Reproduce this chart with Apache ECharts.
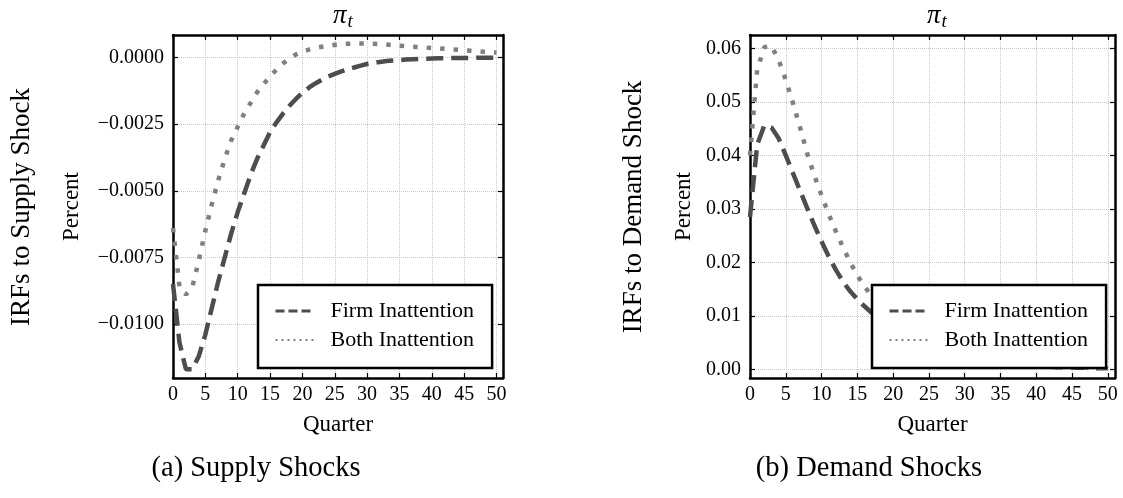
<!DOCTYPE html>
<html>
<head>
<meta charset="utf-8">
<script src="https://cdn.jsdelivr.net/npm/echarts@6/dist/echarts.min.js"></script>
<style>
html, body { margin: 0; padding: 0; background: #fff; }
#chart { width: 1123px; height: 498px; }
</style>
</head>
<body>
<div id="chart"></div>
<script>
// ---- data ----
const quarters = [0,1,2,3,4,5,6,7,8,9,10,11,12,13,14,15,16,17,18,19,20,21,22,23,24,25,
    26,27,28,29,30,31,32,33,34,35,36,37,38,39,40,41,42,43,44,45,46,47,48,49,50];

// (a) supply shock
const supplyFirm = [-0.0085, -0.0107, -0.0117, -0.0117, -0.0112, -0.0104, -0.0094, -0.0084, -0.0075, -0.0066,
    -0.0058, -0.0051, -0.0044, -0.0038, -0.0033, -0.0028, -0.00243, -0.0021, -0.00181, -0.00155,
    -0.00132, -0.00113, -0.00097, -0.00083, -0.00071, -0.00061, -0.00052, -0.00044, -0.00037, -0.00030,
    -0.00024, -0.00020, -0.00016, -0.00013, -0.00011, -0.00009, -0.00007, -0.00006, -0.00005, -0.00004,
    -0.00003, -0.00002, -0.00002, -0.00001, -0.00001, -0.00001, -0.00001, 0, 0, 0, 0];
const supplyBoth = [-0.0064, -0.0086, -0.0089, -0.0086, -0.0076, -0.0065, -0.0055, -0.0046, -0.0038, -0.0031,
    -0.0026, -0.0021, -0.0017, -0.0013, -0.0010, -0.00070, -0.00045, -0.00022, -0.00002, 0.00012,
    0.00022, 0.00030, 0.00036, 0.00041, 0.00045, 0.00048, 0.00050, 0.00052, 0.00053, 0.00053,
    0.00053, 0.00052, 0.00051, 0.00049, 0.00047, 0.00045, 0.00043, 0.00041, 0.00040, 0.00038,
    0.00036, 0.00035, 0.00033, 0.00031, 0.00030, 0.00028, 0.00026, 0.00024, 0.00022, 0.00020, 0.00019];

// (b) demand shock
const demandFirm = [0.0285, 0.0420, 0.0456, 0.0452, 0.0432, 0.0400, 0.0367, 0.0334, 0.0301, 0.0269,
    0.0239, 0.0211, 0.0186, 0.0164, 0.0146, 0.0131, 0.0118, 0.0106, 0.0095, 0.0085,
    0.0076, 0.0067, 0.0059, 0.0052, 0.0046, 0.0040, 0.0035, 0.0031, 0.0027, 0.0023,
    0.0020, 0.0018, 0.0016, 0.0014, 0.0012, 0.0011, 0.0010, 0.0009, 0.0008, 0.0007,
    0.0006, 0.0005, 0.0005, 0.0004, 0.0004, 0.0003, 0.0003, 0.0003, 0.0002, 0.0002, 0.0002];
const demandBoth = [0.0400, 0.0560, 0.0602, 0.0605, 0.0578, 0.0541, 0.0498, 0.0452, 0.0403, 0.0362,
    0.0325, 0.0290, 0.0258, 0.0228, 0.0200, 0.0176, 0.0155, 0.0137, 0.0121, 0.0107,
    0.0094, 0.0083, 0.0073, 0.0064, 0.0056, 0.0049, 0.0043, 0.0038, 0.0033, 0.0029,
    0.0025, 0.0022, 0.0019, 0.0017, 0.0015, 0.0013, 0.0011, 0.0010, 0.0009, 0.0008,
    0.0007, 0.0006, 0.0005, 0.0005, 0.0004, 0.0004, 0.0003, 0.0003, 0.0003, 0.0002, 0.0002];

const xTicks = [0, 5, 10, 15, 20, 25, 30, 35, 40, 45, 50];
const supplyTicks = [-0.01, -0.0075, -0.005, -0.0025, 0];
const demandTicks = [0, 0.01, 0.02, 0.03, 0.04, 0.05, 0.06];

const seriesNames = ['Firm Inattention', 'Both Inattention'];

// ---- styles ----
const FONT = 'Liberation Serif';
const FIRM_STYLE = { color: '#4d4d4d', width: 4.5, type: [17, 8], cap: 'butt' };
const BOTH_STYLE = { color: '#808080', width: 4.5, type: [4.5, 9], cap: 'butt' };

function pairs(ys) {
    return quarters.map((q, i) => [q, ys[i]]);
}

function fmtSupply(v) {
    if (Math.abs(v) < 1e-12) return '0.0000';
    return (v < 0 ? '\u2212' : '') + Math.abs(v).toFixed(4);
}
function fmtDemand(v) {
    return Math.abs(v) < 1e-12 ? '0.00' : v.toFixed(2);
}

function xAxes(grid) {
    const base = {
        type: 'value', gridIndex: grid, min: 0, max: 51,
        axisLine: { onZero: false, lineStyle: { color: '#000', width: 2.5 } },
        axisTick: { inside: true, length: 5, customValues: xTicks, lineStyle: { color: '#000', width: 1.2 } },
        splitLine: { show: false }
    };
    return [
        Object.assign({}, base, {
            position: 'bottom',
            name: 'Quarter', nameLocation: 'middle', nameGap: 35,
            nameTextStyle: { fontFamily: FONT, fontSize: 23, color: '#000' },
            axisLabel: { customValues: xTicks, margin: 7, fontFamily: FONT, fontSize: 20, color: '#000' },
            splitLine: { show: true, lineStyle: { color: '#c8c8c8', width: 1, type: 'dotted' } }
        }),
        Object.assign({}, base, { position: 'top', axisLabel: { show: false } })
    ];
}

function yAxes(grid, min, max, ticks, fmt, gap) {
    const base = {
        type: 'value', gridIndex: grid, min: min, max: max,
        axisLine: { onZero: false, lineStyle: { color: '#000', width: 2.5 } },
        axisTick: { inside: true, length: 5, customValues: ticks, lineStyle: { color: '#000', width: 1.2 } },
        splitLine: { show: false }
    };
    return [
        Object.assign({}, base, {
            position: 'left',
            name: 'Percent', nameLocation: 'middle', nameGap: gap,
            nameTextStyle: { fontFamily: FONT, fontSize: 23, color: '#000' },
            axisLabel: { customValues: ticks, margin: 9, formatter: fmt, fontFamily: FONT, fontSize: 20, color: '#000' },
            splitLine: { show: true, lineStyle: { color: '#c8c8c8', width: 1, type: 'dotted' } }
        }),
        Object.assign({}, base, { position: 'right', axisLabel: { show: false } })
    ];
}

function makeLegend(left) {
    return {
        left: left, top: 285, orient: 'vertical',
        padding: [15, 18, 17, 16],
        itemGap: 7, itemWidth: 38, itemHeight: 14,
        backgroundColor: '#fff', borderColor: '#000', borderWidth: 2.5, borderRadius: 0,
        selectedMode: false,
        textStyle: { fontFamily: FONT, fontSize: 22, color: '#000', lineHeight: 22, padding: [0, 0, 0, 12] },
        data: [
            { name: seriesNames[0], itemStyle: { opacity: 0 },
              lineStyle: { color: '#4d4d4d', type: [9, 4], width: 3, cap: 'butt' } },
            { name: seriesNames[1], itemStyle: { opacity: 0 },
              lineStyle: { color: '#808080', type: [2, 4], width: 2, cap: 'butt' } }
        ]
    };
}

function makeTitle(cx) {
    return {
        text: '{a|\u03C0}{b|t}', left: cx, top: -3, textAlign: 'center',
        textStyle: {
            rich: {
                a: { fontFamily: FONT, fontStyle: 'italic', fontWeight: 'normal', fontSize: 27, lineHeight: 27, color: '#000' },
                b: { fontFamily: FONT, fontStyle: 'italic', fontWeight: 'normal', fontSize: 19, lineHeight: 19, padding: [13, 0, 0, 1], color: '#000' }
            }
        }
    };
}

function line(name, ys, style, grid) {
    return {
        type: 'line', name: name, data: pairs(ys),
        xAxisIndex: grid * 2, yAxisIndex: grid * 2,
        symbol: 'none', smooth: false, z: 3,
        itemStyle: { color: style.color },
        lineStyle: style
    };
}

const chart = echarts.init(document.getElementById('chart'), null, { renderer: 'canvas' });

chart.setOption({
    animation: false,
    backgroundColor: '#fff',
    title: [makeTitle(338), makeTitle(932)],
    grid: [
        { left: 173, right: 620, top: 35, bottom: 120 },
        { left: 750, right: 8, top: 35, bottom: 120 }
    ],
    xAxis: xAxes(0).concat(xAxes(1)),
    yAxis: yAxes(0, -0.01203, 0.00085, supplyTicks, fmtSupply, 90)
        .concat(yAxes(1, -0.0016, 0.0625, demandTicks, fmtDemand, 55)),
    legend: [makeLegend(258), makeLegend(872)],
    series: [
        line(seriesNames[0], supplyFirm, FIRM_STYLE, 0),
        line(seriesNames[1], supplyBoth, BOTH_STYLE, 0),
        line(seriesNames[0], demandFirm, FIRM_STYLE, 1),
        line(seriesNames[1], demandBoth, BOTH_STYLE, 1)
    ],
    graphic: [
        { type: 'text', x: 22, y: 207, rotation: Math.PI / 2,
          style: { text: 'IRFs to Supply Shock', fontFamily: FONT, fontSize: 27, fill: '#000', align: 'center', verticalAlign: 'middle' } },
        { type: 'text', x: 634, y: 207, rotation: Math.PI / 2,
          style: { text: 'IRFs to Demand Shock', fontFamily: FONT, fontSize: 27, fill: '#000', align: 'center', verticalAlign: 'middle' } },
        { type: 'text', x: 256, y: 469,
          style: { text: '(a) Supply Shocks', fontFamily: FONT, fontSize: 28.5, fill: '#000', align: 'center', verticalAlign: 'middle' } },
        { type: 'text', x: 869, y: 469,
          style: { text: '(b) Demand Shocks', fontFamily: FONT, fontSize: 28.5, fill: '#000', align: 'center', verticalAlign: 'middle' } }
    ]
});
</script>
</body>
</html>
